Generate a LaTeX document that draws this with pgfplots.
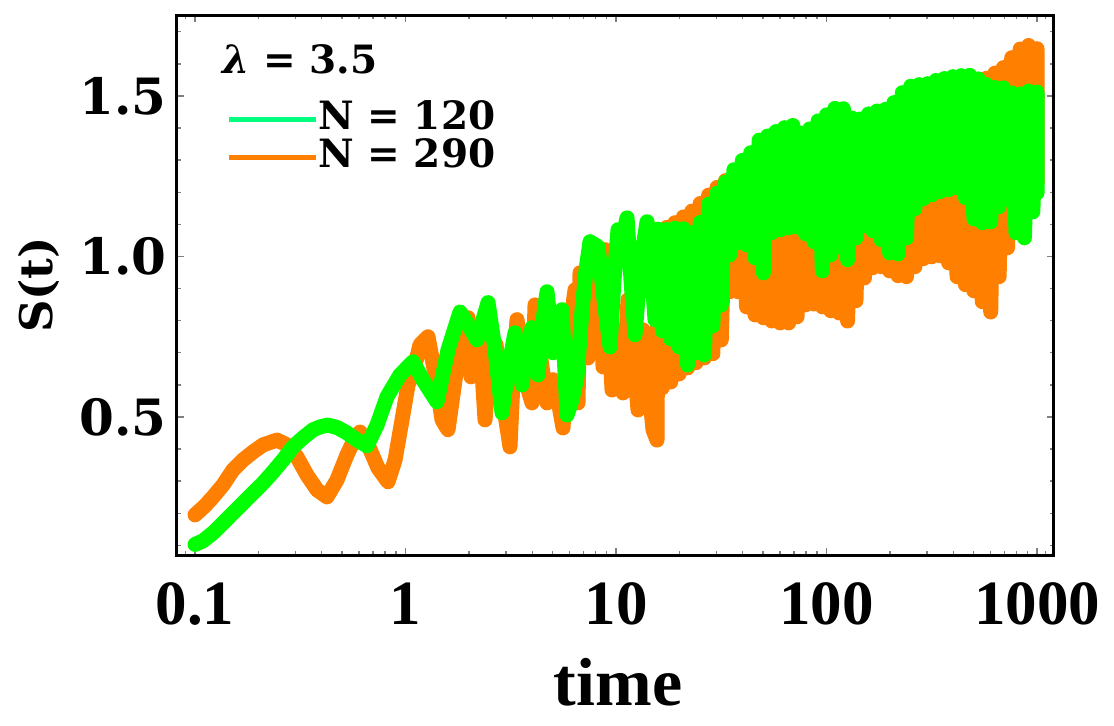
\documentclass[border=0pt]{standalone}
\usepackage{pgfplots}
\pgfplotsset{compat=1.18}
\usepackage{fontspec}
\setmainfont{DejaVu Serif}
\newfontfamily\timesfont{Liberation Serif}
\definecolor{plotorange}{RGB}{255,128,0}
\definecolor{plotgreen}{RGB}{0,255,0}
\definecolor{leggreen}{RGB}{0,255,127}
\definecolor{tickgray}{RGB}{128,128,128}
\begin{document}
\begin{tikzpicture}
\useasboundingbox (-88.5pt,-85pt) rectangle (468.5pt,277.5pt);
\begin{axis}[
  at={(0,0)}, anchor=south west,
  scale only axis, width=438.5pt, height=270pt,
  xmode=log, xmin=0.0821, xmax=1204, ymin=0.07, ymax=1.752,
  axis line style={line width=1.5pt, black},
  tick style={tickgray, line width=0.7pt},
  major tick length=3.5pt, minor tick length=2pt,
  tick align=inside,
  xtick={0.1,1,10,100,1000}, xticklabels={0.1,1,10,100,1000},
  minor xtick={0.09,0.2,0.3,0.4,0.5,0.6,0.7,0.8,0.9,2,3,4,5,6,7,8,9,20,30,40,50,60,70,80,90,200,300,400,500,600,700,800,900,1100},
  ytick={0.5,1.0,1.5}, yticklabels={0.5,1.0,1.5},
  minor ytick={0.1,0.2,0.3,0.4,0.6,0.7,0.8,0.9,1.1,1.2,1.3,1.4,1.6,1.7},
  /pgf/number format/assume math mode=true,
  xticklabel style={font=\timesfont\bfseries\fontsize{31.5}{31.5}\selectfont, anchor=base, inner sep=0pt, yshift=-34.5pt},
  yticklabel style={font=\bfseries\fontsize{25}{25}\selectfont, anchor=east, inner sep=0pt, xshift=-5pt},
  xlabel={time},
  xlabel style={font=\timesfont\bfseries\fontsize{34}{34}\selectfont, at={(axis description cs:0.503,-0.2778)}, anchor=base, inner sep=0pt},
  ylabel={S(t)},
  ylabel style={font=\bfseries\fontsize{22.5}{22.5}\selectfont, at={(axis description cs:-0.1425,0.5)}, anchor=base, rotate=0, inner sep=0pt},
  legend image code/.code={\draw[#1, line width=2.5pt] (0pt,-1.5pt) -- (43.5pt,-1.5pt);},
  legend cell align=left,
  legend style={at={(axis description cs:0.0559,0.843)}, anchor=north west, draw=none, fill=none, inner sep=0pt, row sep=3.3pt, font=\bfseries\fontsize{19.5}{19.5}\selectfont, nodes={inner sep=0pt}, /tikz/every even column/.append style={column sep=3.5pt}},
]
\addplot[plotorange, line width=7.5pt, line join=round, line cap=round, forget plot] coordinates {
(0.1,0.195) (0.1115,0.223) (0.1218,0.251) (0.1358,0.288) (0.1515,0.335) (0.1690,0.366) (0.1886,0.391) (0.2104,0.413)
(0.2452,0.428) (0.2735,0.413) (0.3052,0.375) (0.3404,0.319) (0.3799,0.273) (0.4236,0.251) (0.4726,0.304) (0.5274,0.382)
(0.5757,0.435) (0.6078,0.453) (0.6637,0.413) (0.7403,0.341) (0.8259,0.298) (0.8917,0.366) (0.9625,0.491) (1.028,0.600)
(1.0855,0.637) (1.172,0.725) (1.279,0.750) (1.396,0.616) (1.491,0.491) (1.592,0.460) (1.719,0.616) (1.855,0.771)
(1.981,0.809) (2.047,0.625) (2.139,0.725) (2.259,0.740) (2.386,0.491) (2.520,0.678) (2.691,0.725) (2.873,0.569)
(3.135,0.407) (3.276,0.678) (3.386,0.803) (3.696,0.616) (3.990,0.544) (4.123,0.849) (4.402,0.678) (4.702,0.544)
(5.019,0.616) (5.303,0.553) (5.600,0.466) (5.916,0.740) (6.387,0.896) (6.600,0.544) (6.745,0.949) (7.047,0.771)
(7.362,0.684) (7.949,0.865) (8.395,0.958) (8.675,0.656) (8.866,1.021) (9.262,0.771) (9.572,0.584) (10.11,0.771)
(10.80,0.575) (11.40,0.865) (12.04,0.709) (12.72,0.522) (13.44,0.771) (14.19,0.616) (14.99,0.460) (15.66,0.428)
(15.85,1.079) (16.60,0.591) (17.38,1.090) (18.20,0.609) (19.05,1.105) (19.95,0.634) (20.89,1.123) (21.88,0.653)
(22.91,1.141) (23.99,0.669) (25.12,1.165) (26.30,0.684) (27.54,1.191) (28.84,0.697) (30.20,1.215) (31.62,0.740)
(33.11,1.236) (34.67,0.890) (36.31,1.233) (38.02,0.890) (39.81,1.262) (41.69,0.843) (43.65,1.286) (45.71,0.818)
(47.86,1.325) (50.12,0.809) (52.48,1.338) (54.95,0.799) (57.54,1.352) (60.26,0.793) (63.10,1.364) (66.07,0.793)
(69.18,1.371) (72.44,0.812) (75.86,1.347) (79.43,0.849) (83.18,1.360) (87.10,0.852) (91.20,1.385) (95.50,0.843)
(100,1.404) (104.7,0.831) (109.6,1.424) (114.8,0.824) (120.2,1.423) (125.9,0.799) (131.8,1.394) (138.0,0.862)
(144.5,1.391) (151.4,0.933) (158.5,1.407) (166.0,0.965) (173.8,1.416) (182.0,0.968) (190.5,1.421) (199.5,0.955)
(208.9,1.442) (218.8,0.940) (229.1,1.473) (239.9,0.937) (251.2,1.493) (263.0,0.968) (275.4,1.498) (288.4,0.993)
(302.0,1.501) (316.2,0.999) (331.1,1.511) (346.7,1.002) (363.1,1.517) (380.2,0.980) (398.1,1.523) (416.9,0.937)
(436.5,1.530) (457.1,0.912) (478.6,1.536) (501.2,0.893) (524.8,1.543) (549.5,0.859) (575.4,1.555) (602.6,0.827)
(631.0,1.571) (660.7,0.937) (691.8,1.588) (724.4,1.027) (758.6,1.619) (794.3,1.083) (831.8,1.646) (871.0,1.139)
(912.0,1.657) (955.0,1.214) (1000,1.647) (1000,1.230)
};
\addplot[plotgreen, line width=7.5pt, line join=round, line cap=round, forget plot] coordinates {
(0.1,0.103) (0.1091,0.114) (0.1218,0.139) (0.1358,0.170) (0.1515,0.201) (0.1690,0.232) (0.1886,0.263) (0.2104,0.294)
(0.2347,0.329) (0.2618,0.366) (0.2921,0.407) (0.3258,0.435) (0.3635,0.460) (0.3926,0.469) (0.4283,0.475) (0.4778,0.466)
(0.5274,0.450) (0.5884,0.428) (0.6565,0.410) (0.7323,0.475) (0.8168,0.563) (0.9416,0.631) (1.0855,0.672) (1.211,0.615)
(1.411,0.547) (1.592,0.709) (1.815,0.827) (1.981,0.787) (2.187,0.740) (2.466,0.856) (2.662,0.709) (2.873,0.513)
(3.068,0.647) (3.313,0.762) (3.576,0.600) (3.778,0.709) (3.990,0.778) (4.262,0.631) (4.500,0.803) (4.702,0.890)
(5.019,0.700) (5.303,0.771) (5.540,0.834) (5.851,0.506) (6.180,0.553) (6.527,0.625) (6.894,0.834) (7.203,0.958)
(7.524,1.046) (8.213,1.030) (8.770,0.865) (9.365,0.718) (9.784,0.927) (10.22,1.083) (10.68,1.052) (11.28,1.120)
(11.78,0.927) (12.31,0.756) (13.15,0.990) (14.04,1.108) (14.67,0.983) (15.32,0.803)
(15.85,1.085) (16.60,0.768) (17.38,1.084) (18.20,0.743) (19.05,1.088) (19.95,0.718) (20.89,1.086) (21.88,0.662)
(22.91,1.074) (23.99,0.700) (25.12,1.106) (26.30,0.693) (27.54,1.163) (28.84,0.784) (30.20,1.197) (31.62,0.849)
(33.11,1.231) (34.67,1.005) (36.31,1.270) (38.02,1.043) (39.81,1.299) (41.69,1.036) (43.65,1.323) (45.71,0.996)
(47.86,1.362) (50.12,0.949) (52.48,1.375) (54.95,1.074) (57.54,1.389) (60.26,1.083) (63.10,1.401) (66.07,1.089)
(69.18,1.408) (72.44,1.092) (75.86,1.384) (79.43,1.071) (83.18,1.397) (87.10,1.046) (91.20,1.422) (95.50,0.955)
(100,1.441) (104.7,1.005) (109.6,1.461) (114.8,1.030) (120.2,1.460) (125.9,0.990) (131.8,1.431) (138.0,1.058)
(144.5,1.428) (151.4,1.096) (158.5,1.444) (166.0,1.080) (173.8,1.453) (182.0,1.052) (190.5,1.458) (199.5,1.011)
(208.9,1.479) (218.8,1.008) (229.1,1.510) (239.9,1.058) (251.2,1.530) (263.0,1.149) (275.4,1.535) (288.4,1.180)
(302.0,1.538) (316.2,1.192) (331.1,1.548) (346.7,1.202) (363.1,1.554) (380.2,1.208) (398.1,1.560) (416.9,1.214)
(436.5,1.563) (457.1,1.183) (478.6,1.564) (501.2,1.117) (524.8,1.553) (549.5,1.105) (575.4,1.535) (602.6,1.108)
(631.0,1.526) (660.7,1.155) (691.8,1.525) (724.4,1.180) (758.6,1.509) (794.3,1.074) (831.8,1.506) (871.0,1.058)
(912.0,1.515) (955.0,1.139) (1000,1.512) (1000,1.198)
};
\addlegendimage{leggreen}
\addlegendentry{N = 120}
\addlegendimage{plotorange}
\addlegendentry{N = 290}
\node[anchor=base west, inner sep=0pt, font=\bfseries\fontsize{19.5}{19.5}\selectfont] at (axis description cs:0.0513,0.8926) {{\itshape λ} = 3.5};
\end{axis}
\end{tikzpicture}
\end{document}
